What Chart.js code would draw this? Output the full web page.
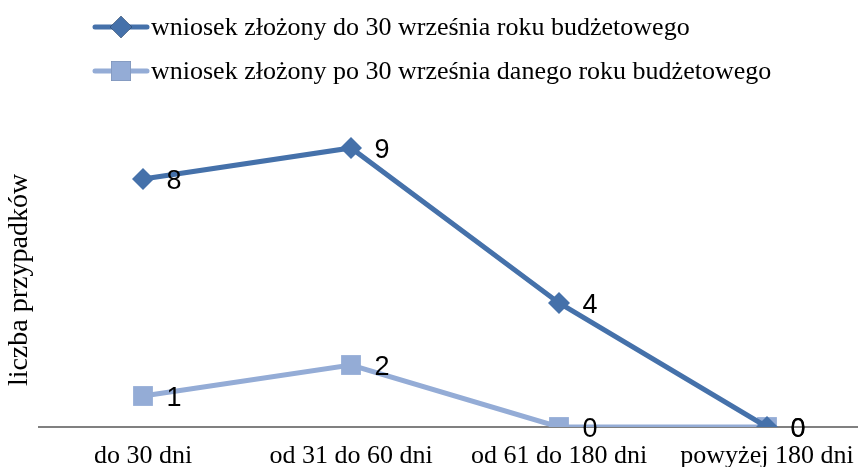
<!DOCTYPE html>
<html>
<head>
<meta charset="utf-8">
<script src="https://cdn.jsdelivr.net/npm/chart.js@4/dist/chart.umd.min.js"></script>
<style>
  html, body { margin: 0; padding: 0; background: #fff; overflow: hidden; }
  #wrap { width: 885px; height: 471px; position: relative; }
</style>
</head>
<body>
<div id="wrap"><canvas id="chart" width="885" height="471"></canvas></div>
<script>
const categories = ['do 30 dni', 'od 31 do 60 dni', 'od 61 do 180 dni', 'powyżej 180 dni'];
const seriesNames = [
  'wniosek złożony do 30 września roku budżetowego',
  'wniosek złożony po 30 września danego roku budżetowego'
];
const beforeSept = [8, 9, 4, 0];
const afterSept = [1, 2, 0, 0];
const yTitle = 'liczba przypadków';

const DARK = '#4571AA';
const LIGHT = '#94ACD6';
const SERIF = '"Liberation Serif", "Times New Roman", serif';
const SANS = '"Liberation Sans", Arial, sans-serif';

// etykiety wartości obok punktów
const valueLabels = {
  id: 'valueLabels',
  afterDatasetsDraw(chart) {
    const ctx = chart.ctx;
    ctx.save();
    ctx.font = '27px ' + SANS;
    ctx.fillStyle = '#000';
    ctx.textAlign = 'center';
    ctx.textBaseline = 'alphabetic';
    chart.data.datasets.forEach((ds, i) => {
      chart.getDatasetMeta(i).data.forEach((pt, j) => {
        ctx.fillText(String(ds.data[j]), pt.x + 31, pt.y + 10);
      });
    });
    ctx.restore();
  }
};

// legenda + tytuł osi Y
const extras = {
  id: 'extras',
  afterDraw(chart) {
    const ctx = chart.ctx;
    ctx.save();
    const rows = [27, 71];
    chart.data.datasets.forEach((ds, i) => {
      const y = rows[i];
      ctx.strokeStyle = ds.borderColor;
      ctx.lineWidth = 5;
      ctx.lineCap = 'round';
      ctx.beginPath();
      ctx.moveTo(95, y);
      ctx.lineTo(147, y);
      ctx.stroke();
      Chart.helpers.drawPoint(ctx, {
        pointStyle: ds.pointStyle,
        radius: ds.pointRadius,
        borderWidth: 0
      }, 121, y);
      ctx.fillStyle = ds.borderColor;
      ctx.fill();
      ctx.fillStyle = '#000';
      ctx.font = '26px ' + SERIF;
      ctx.textAlign = 'left';
      ctx.textBaseline = 'middle';
      ctx.fillText(seriesNames[i], 151, y + 1);
    });
    ctx.translate(20, 280);
    ctx.rotate(-Math.PI / 2);
    ctx.font = '28px ' + SERIF;
    ctx.textAlign = 'center';
    ctx.textBaseline = 'middle';
    ctx.fillText(yTitle, 0, 0);
    ctx.restore();
  }
};

new Chart(document.getElementById('chart'), {
  type: 'line',
  data: {
    labels: categories,
    datasets: [
      {
        label: seriesNames[0],
        data: beforeSept,
        borderColor: DARK,
        backgroundColor: DARK,
        borderWidth: 5,
        pointStyle: 'rectRot',
        pointRadius: 11,
        pointHoverRadius: 11,
        pointBorderWidth: 0,
        tension: 0
      },
      {
        label: seriesNames[1],
        data: afterSept,
        borderColor: LIGHT,
        backgroundColor: LIGHT,
        borderWidth: 5,
        pointStyle: 'rect',
        pointRadius: 14,
        pointHoverRadius: 14,
        pointBorderWidth: 0,
        tension: 0
      }
    ]
  },
  options: {
    responsive: false,
    animation: false,
    events: [],
    devicePixelRatio: 1,
    layout: { padding: { left: 39, right: 0, top: 117, bottom: 4 } },
    plugins: {
      legend: { display: false },
      tooltip: { enabled: false }
    },
    scales: {
      x: {
        offset: true,
        grid: { display: false },
        border: { display: true, color: '#808080', width: 2 },
        afterFit(scale) { scale.height = 40; },
        ticks: {
          color: '#000',
          font: { family: SERIF, size: 26 },
          padding: 6,
          maxRotation: 0,
          autoSkip: false
        }
      },
      y: {
        display: false,
        min: 0,
        max: 10
      }
    }
  },
  plugins: [valueLabels, extras]
});
</script>
</body>
</html>
